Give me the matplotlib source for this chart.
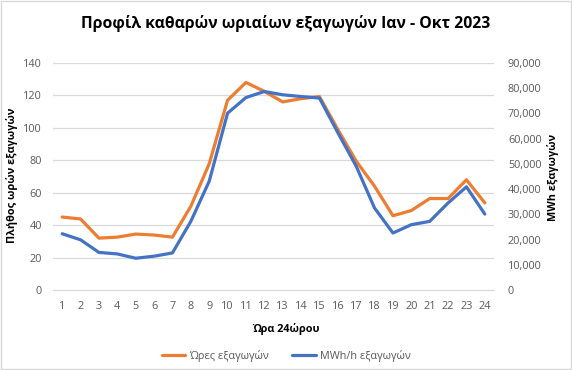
import matplotlib
matplotlib.use("Agg")
import matplotlib.pyplot as plt
from matplotlib.ticker import FuncFormatter, MultipleLocator
from matplotlib.patches import Rectangle

plt.rcParams['font.family'] = ['Open Sans', 'DejaVu Sans']

hours = list(range(1, 25))
hours_export = [45.0, 43.8, 32.0, 32.6, 34.5, 33.9, 32.6, 51.6, 77.8, 117.0, 128.0, 122.5,
                116.0, 118.0, 119.3, 99.0, 79.5, 64.0, 45.8, 49.0, 56.4, 56.4, 68.0, 53.7]
mwh_export = [22300, 19900, 14900, 14300, 12600, 13400, 14700, 27200, 43100, 70100, 76300, 78700,
              77400, 76700, 76100, 62400, 49100, 32500, 22600, 25900, 27200, 34500, 40900, 30100]

title = "Προφίλ καθαρών ωριαίων εξαγωγών Ιαν - Οκτ 2023"
xlabel = "Ώρα 24ώρου"
ylabel_left = "Πλήθος ωρών εξαγωγών"
ylabel_right = "MWh εξαγωγών"
legend_labels = ["Ώρες εξαγωγών", "MWh/h εξαγωγών"]

ORANGE = "#ED7D31"
BLUE = "#4472C4"
GRID = "#D9D9D9"
TXT = "#595959"

fig = plt.figure(figsize=(5.72, 3.70), dpi=100)
fig.patches.append(Rectangle((0.0015, 0.002), 0.997, 0.996, transform=fig.transFigure,
                             fill=False, edgecolor=GRID, linewidth=1.0))
ax = fig.add_axes([53/572, 80/370, (494-53)/572, (290-63)/370])
ax2 = ax.twinx()

l1, = ax.plot(hours, hours_export, color=ORANGE, lw=2.3, solid_capstyle='round', zorder=3)
l2, = ax2.plot(hours, mwh_export, color=BLUE, lw=2.3, solid_capstyle='round', zorder=3)

ax.set_xlim(0.5, 24.5)
ax.set_ylim(0, 140)
ax2.set_ylim(0, 90000)
ax.yaxis.set_major_locator(MultipleLocator(20))
ax2.yaxis.set_major_locator(MultipleLocator(10000))
ax2.yaxis.set_major_formatter(FuncFormatter(lambda v, p: f"{int(v):,}"))
ax.set_xticks(hours)
ax.grid(axis='y', color=GRID, lw=0.9)
ax.set_axisbelow(True)

for a in (ax, ax2):
    for s in a.spines.values():
        s.set_visible(False)
    a.tick_params(length=0, labelsize=7.8, labelcolor=TXT)
ax.spines['bottom'].set_visible(True)
ax.spines['bottom'].set_color(GRID)
ax.tick_params(axis='x', pad=8)
ax.tick_params(axis='y', pad=8)
ax2.tick_params(axis='y', pad=10)

fig.text(0.5, 1 - 24/370, title, ha='center', va='center', fontsize=11.3, fontweight='bold', color='black')
fig.text(12/572, 1 - 175/370, ylabel_left, rotation=90, ha='center', va='center', fontsize=7.8, fontweight='bold')
fig.text(553/572, 1 - 177/370, ylabel_right, rotation=90, ha='center', va='center', fontsize=7.8, fontweight='bold')
fig.text(0.5, 1 - 329/370, xlabel, ha='center', va='center', fontsize=7.8, fontweight='bold')

fig.legend([l1, l2], legend_labels, loc='center', bbox_to_anchor=(0.5, 1 - 356/370), ncol=2,
           frameon=False, fontsize=7.8, labelcolor=TXT, handlelength=2.2, columnspacing=2.2,
           handletextpad=0.3)

fig.savefig("out.png", dpi=100)
